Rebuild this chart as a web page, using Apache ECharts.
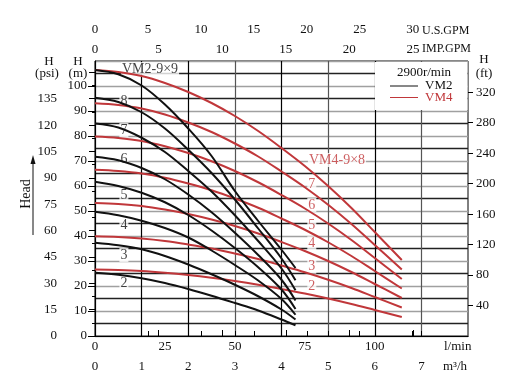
<!DOCTYPE html>
<html><head><meta charset="utf-8">
<script src="https://cdn.jsdelivr.net/npm/echarts@6/dist/echarts.min.js"></script>
<style>html,body{margin:0;padding:0;background:#fff}#c{width:507px;height:384px}</style>
</head><body><div id="c"></div>
<script>
// flow (m3/h) sample points
const flowVM2 = [0, 0.5, 1, 1.5, 2, 2.5, 3, 3.5, 4, 4.3];
const flowVM4 = [0, 0.5, 1, 1.5, 2, 2.5, 3, 3.5, 4, 4.5, 5, 5.5, 6, 6.58];
// VM2 heads (m) by stage count
const vm2s2 = [25.3, 24.5, 23.1, 21.2, 18.8, 16.1, 13.2, 10.2, 6.6, 4.3];
const vm2s3 = [37.3, 36.3, 34.7, 32.0, 28.6, 24.7, 20.5, 15.9, 10.6, 6.6];
const vm2s4 = [49.7, 48.3, 46.1, 43.2, 39.4, 34.2, 28.4, 22.2, 14.8, 8.5];
const vm2s5 = [61.7, 60.0, 57.3, 53.5, 48.4, 42.2, 35.2, 27.5, 18.6, 10.8];
const vm2s6 = [71.7, 70.3, 67.2, 62.7, 56.6, 49.5, 41.3, 32.4, 22.5, 14.2];
const vm2s7 = [85.0, 83.4, 79.3, 73.6, 66.0, 57.8, 48.3, 38.0, 27.0, 18.3];
const vm2s8 = [95.3, 93.6, 89.5, 83.0, 74.5, 65.2, 54.6, 43.0, 31.0, 22.3];
const vm2s9 = [106.4, 104.7, 100.2, 92.6, 83.0, 72.0, 58.0, 46.0, 34.5, 27.2];
// VM4 heads (m) by stage count
const vm4s2 = [26.6, 26.4, 26.0, 25.3, 24.4, 23.3, 22.0, 20.5, 18.8, 17.0, 15.0, 12.8, 10.4, 7.6];
const vm4s3 = [39.9, 39.6, 39.0, 38.0, 36.6, 35.0, 33.0, 30.8, 28.2, 25.5, 22.5, 19.2, 15.6, 11.4];
const vm4s4 = [53.2, 52.8, 52.0, 50.6, 48.8, 46.6, 44.0, 41.0, 37.6, 34.0, 30.0, 25.6, 20.8, 15.2];
const vm4s5 = [66.5, 66.0, 65.0, 63.3, 61.0, 58.3, 55.0, 51.3, 47.0, 42.5, 37.5, 32.0, 26.0, 19.0];
const vm4s6 = [79.8, 79.2, 78.0, 75.9, 73.2, 69.9, 66.0, 61.5, 56.4, 51.0, 45.0, 38.4, 31.2, 22.8];
const vm4s7 = [93.1, 92.4, 91.0, 88.6, 85.4, 81.6, 77.0, 71.8, 65.8, 59.5, 52.5, 44.8, 36.4, 26.6];
const vm4s8 = [106.4, 105.6, 104.0, 101.2, 97.6, 93.2, 88.0, 82.0, 75.2, 68.0, 60.0, 51.2, 41.6, 30.4];
// tick labels
const ticksM3h = [0, 1, 2, 3, 4, 5, 6, 7];
const ticksLmin = [0, 25, 50, 75, 100];
const ticksImp = [0, 5, 10, 15, 20, 25];
const ticksUs = [0, 5, 10, 15, 20, 25, 30];
const ticksM = [0, 10, 20, 30, 40, 50, 60, 70, 80, 90, 100];
const ticksPsi = [0, 15, 30, 45, 60, 75, 90, 105, 120, 135];
const ticksFt = [40, 80, 120, 160, 200, 240, 280, 320];

const FONT = 'Liberation Serif';
const RED = '#c0373a';
const BLK = '#111';

const M3H_MAX = 8;
const toLmin = 1000 / 60, toImp = 1 / 0.272765, toUs = 1 / 0.2271247;
const H_MAX = 110;
const toPsi = 1 / 0.70307, toFt = 1 / 0.3048;

function pairs(xs, ys) { return xs.map((x, i) => [x, ys[i]]); }
function curve(xs, ys, color) {
  return { type: 'line', data: pairs(xs, ys), smooth: 0.35, showSymbol: false, silent: true, z: 5,
    lineStyle: { color: color, width: 2 }, xAxisIndex: 0, yAxisIndex: 0 };
}
const psiMinor = [];
for (let v = 7.5; v < 150; v += 15) psiMinor.push(v);
const psiMajor = ticksPsi.concat([150]);

const txt = { fontFamily: FONT, fontSize: 13, color: '#111' };
const series = [
  curve(flowVM4, vm4s2, RED), curve(flowVM4, vm4s3, RED), curve(flowVM4, vm4s4, RED),
  curve(flowVM4, vm4s5, RED), curve(flowVM4, vm4s6, RED), curve(flowVM4, vm4s7, RED), curve(flowVM4, vm4s8, RED),
  curve(flowVM2, vm2s2, BLK), curve(flowVM2, vm2s3, BLK), curve(flowVM2, vm2s4, BLK),
  curve(flowVM2, vm2s5, BLK), curve(flowVM2, vm2s6, BLK), curve(flowVM2, vm2s7, BLK),
  curve(flowVM2, vm2s8, BLK), curve(flowVM2, vm2s9, BLK),
  { type: 'scatter', symbolSize: 0, silent: true, z: 3, xAxisIndex: 0, yAxisIndex: 0,
    label: { show: true, position: 'inside', formatter: p => p.name, fontFamily: FONT, fontSize: 14,
      color: BLK, backgroundColor: '#fff', padding: [0, 1] },
    data: [
      { name: 'VM2-9×9', value: [1.18, 106.8] },
      { name: '8', value: [0.62, 94.0] }, { name: '7', value: [0.62, 82.4] },
      { name: '6', value: [0.62, 70.7] }, { name: '5', value: [0.62, 56.4] },
      { name: '4', value: [0.62, 44.4] }, { name: '3', value: [0.62, 32.4] },
      { name: '2', value: [0.62, 21.0] }
    ] },
  { type: 'scatter', symbolSize: 0, silent: true, z: 3, xAxisIndex: 0, yAxisIndex: 0,
    label: { show: true, position: 'inside', formatter: p => p.name, fontFamily: FONT, fontSize: 14,
      color: RED, backgroundColor: '#fff', padding: [0, 1] },
    data: [
      { name: 'VM4-9×8', value: [5.19, 70.4] },
      { name: '7', value: [4.65, 60.7] }, { name: '6', value: [4.65, 52.4] },
      { name: '5', value: [4.65, 44.4] }, { name: '4', value: [4.65, 37.1] },
      { name: '3', value: [4.65, 27.7] }, { name: '2', value: [4.65, 20.0] }
    ] }
];

const option = {
  animation: false,
  grid: { left: 95, right: 39, top: 61, bottom: 48, show: true, borderColor: '#000', borderWidth: 1, backgroundColor: 'transparent' },
  xAxis: [
    { type: 'value', position: 'bottom', offset: 20, min: 0, max: M3H_MAX, interval: 1,
      axisLine: { show: true, lineStyle: { color: '#000' } },
      axisTick: { show: true, inside: true, length: 5, lineStyle: { color: '#000' }, customValues: ticksM3h },
      axisLabel: Object.assign({ margin: 4, customValues: ticksM3h }, txt),
      splitLine: { show: true, lineStyle: { width: 1.2, color: ['#000', '#000', '#000', '#555', '#000', '#555', '#000', '#555', '#000'] } } },
    { type: 'value', position: 'bottom', offset: 0, min: 0, max: M3H_MAX * toLmin, interval: 25,
      axisLine: { show: false }, axisTick: { show: false }, splitLine: { show: false },
      axisLabel: Object.assign({ margin: 4, customValues: ticksLmin }, txt) },
    { type: 'value', position: 'top', offset: 0, min: 0, max: M3H_MAX * toImp, interval: 5,
      axisLine: { show: false },
      axisTick: { show: true, length: 6, lineStyle: { color: '#000' }, customValues: ticksImp },
      splitLine: { show: false },
      axisLabel: Object.assign({ margin: 5, customValues: ticksImp }, txt) },
    { type: 'value', position: 'top', offset: 22, min: 0, max: M3H_MAX * toUs, interval: 5,
      axisLine: { show: true, lineStyle: { color: '#000' } },
      axisTick: { show: true, length: 5, lineStyle: { color: '#000' }, customValues: ticksUs },
      splitLine: { show: false },
      axisLabel: Object.assign({ margin: 3, customValues: ticksUs }, txt) }
  ],
  yAxis: [
    { type: 'value', position: 'left', offset: 0, min: 0, max: H_MAX, interval: 10,
      axisLine: { show: false },
      axisTick: { show: true, length: 7, lineStyle: { color: '#000' }, customValues: ticksM },
      axisLabel: Object.assign({ margin: 8, customValues: ticksM }, txt),
      splitLine: { show: false } },
    { type: 'value', position: 'left', min: 0, max: H_MAX, interval: 5,
      axisLine: { show: false }, axisTick: { show: false }, axisLabel: { show: false },
      splitLine: { show: true, lineStyle: { width: 1.4, color: ['#a0a0a0', '#222'] } } },
    { type: 'value', position: 'left', offset: 31, min: 0, max: H_MAX * toPsi, interval: 15,
      axisLine: { show: true, lineStyle: { color: '#000' } },
      axisTick: { show: true, length: 6, lineStyle: { color: '#000' }, customValues: psiMajor },
      axisLabel: Object.assign({ margin: 7, customValues: ticksPsi }, txt),
      splitLine: { show: false } },
    { type: 'value', position: 'left', offset: 31, min: 0, max: H_MAX * toPsi, interval: 15,
      axisLine: { show: false },
      axisTick: { show: true, length: 3, lineStyle: { color: '#000' }, customValues: psiMinor },
      axisLabel: { show: false }, splitLine: { show: false } },
    { type: 'value', position: 'right', offset: 0, min: 0, max: H_MAX * toFt, interval: 40,
      axisLine: { show: false },
      axisTick: { show: true, length: 5, lineStyle: { color: '#000' }, customValues: ticksFt },
      axisLabel: Object.assign({ margin: 8, customValues: ticksFt }, txt),
      splitLine: { show: false } }
  ],
  graphic: [
    { type: 'rect', z: 10, shape: { x: 375, y: 62, width: 92.5, height: 48 }, style: { fill: '#fff' } },
    { type: 'text', z: 11, style: { text: '2900r/min', x: 424, y: 72.5, align: 'center', verticalAlign: 'middle', font: '13px "Liberation Serif"', fill: '#111' } },
    { type: 'line', z: 11, shape: { x1: 390, y1: 86, x2: 418, y2: 86 }, style: { stroke: '#111', lineWidth: 1 } },
    { type: 'text', z: 11, style: { text: 'VM2', x: 425, y: 85.5, align: 'left', verticalAlign: 'middle', font: '13px "Liberation Serif"', fill: '#111' } },
    { type: 'line', z: 11, shape: { x1: 390, y1: 97.5, x2: 418, y2: 97.5 }, style: { stroke: RED, lineWidth: 1 } },
    { type: 'text', z: 11, style: { text: 'VM4', x: 425, y: 97.5, align: 'left', verticalAlign: 'middle', font: '13px "Liberation Serif"', fill: RED } },
    { type: 'text', style: { text: 'U.S.GPM', x: 422, y: 30.5, align: 'left', verticalAlign: 'middle', font: '12px "Liberation Serif"', fill: '#111' } },
    { type: 'text', style: { text: 'IMP.GPM', x: 422, y: 49, align: 'left', verticalAlign: 'middle', font: '12px "Liberation Serif"', fill: '#111' } },
    { type: 'text', style: { text: 'l/min', x: 444, y: 347, align: 'left', verticalAlign: 'middle', font: '13px "Liberation Serif"', fill: '#111' } },
    { type: 'text', style: { text: 'm³/h', x: 443, y: 367, align: 'left', verticalAlign: 'middle', font: '13px "Liberation Serif"', fill: '#111' } },
    { type: 'text', style: { text: 'H', x: 49, y: 62, align: 'center', verticalAlign: 'middle', font: '13px "Liberation Serif"', fill: '#111' } },
    { type: 'text', style: { text: '(psi)', x: 47, y: 74, align: 'center', verticalAlign: 'middle', font: '13px "Liberation Serif"', fill: '#111' } },
    { type: 'text', style: { text: 'H', x: 78, y: 62, align: 'center', verticalAlign: 'middle', font: '13px "Liberation Serif"', fill: '#111' } },
    { type: 'text', style: { text: '(m)', x: 78, y: 74, align: 'center', verticalAlign: 'middle', font: '13px "Liberation Serif"', fill: '#111' } },
    { type: 'text', style: { text: 'H', x: 484, y: 60, align: 'center', verticalAlign: 'middle', font: '13px "Liberation Serif"', fill: '#111' } },
    { type: 'text', style: { text: '(ft)', x: 484, y: 74, align: 'center', verticalAlign: 'middle', font: '13px "Liberation Serif"', fill: '#111' } },
    { type: 'text', x: 26, y: 194, rotation: Math.PI / 2, style: { text: 'Head', x: 0, y: 0, align: 'center', verticalAlign: 'middle', font: '14px "Liberation Serif"', fill: '#111' } },
    { type: 'line', shape: { x1: 33, y1: 235, x2: 33, y2: 162 }, style: { stroke: '#111', lineWidth: 1 } },
    { type: 'polygon', shape: { points: [[33, 155], [30.5, 164], [35.5, 164]] }, style: { fill: '#111' } }
  ],
  series: series
};
const chart = echarts.init(document.getElementById('c'), null, { renderer: 'canvas' });
chart.setOption(option);
</script></body></html>
